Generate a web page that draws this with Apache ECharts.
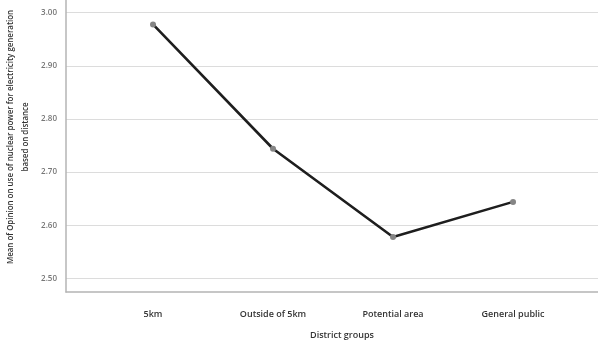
<!DOCTYPE html>
<html><head><meta charset="utf-8">
<script src="https://cdn.jsdelivr.net/npm/echarts@6/dist/echarts.min.js"></script>
<style>html,body{margin:0;padding:0;background:#fff}#c{width:598px;height:343px}</style>
</head><body><div id="c"></div>
<script>
var categories = ["5km", "Outside of 5km", "Potential area", "General public"];
var meanValues = [2.978, 2.744, 2.578, 2.644];
var yTicks = [2.5, 2.6, 2.7, 2.8, 2.9, 3.0];
var yTitle = "Mean of Opinion on use of nuclear power for electricity generation\nbased on distance";
var xTitle = "District groups";

var chart = echarts.init(document.getElementById('c'), null, {renderer: 'canvas'});
var F = '"Open Sans", "Noto Sans", sans-serif';
chart.setOption({
  animation: false,
  grid: {left: 66, right: 0, top: 0, bottom: 51},
  xAxis: {
    type: 'value', min: -0.725, max: 3.708,
    axisLine: {show: true, onZero: false, lineStyle: {color: '#b4b4b4', width: 1.5}},
    axisTick: {show: false},
    splitLine: {show: false},
    axisLabel: {
      customValues: [0, 1, 2, 3],
      formatter: function (v) { return categories[Math.round(v)] || ''; },
      fontFamily: F, fontSize: 9, fontWeight: 600, color: '#333', margin: 18
    }
  },
  yAxis: {
    type: 'value', min: 2.4744, max: 3.0239,
    axisLine: {show: true, onZero: false, lineStyle: {color: '#b4b4b4', width: 1.5}},
    axisTick: {show: false, customValues: yTicks},
    splitLine: {show: true, lineStyle: {color: '#dcdcdc', width: 1.2}},
    axisLabel: {
      customValues: yTicks,
      formatter: function (v) { return v.toFixed(2); },
      fontFamily: F, fontSize: 8, fontWeight: 600, color: '#777', margin: 9
    }
  },
  graphic: [
    {type: 'text', x: 18, y: 137, rotation: Math.PI / 2, scaleX: 0.93,
     style: {text: yTitle, fontFamily: F, fontSize: 8.5, fontWeight: 600, fill: '#333', align: 'center', verticalAlign: 'middle', lineHeight: 15}},
    {type: 'text', x: 342, y: 335,
     style: {text: xTitle, fontFamily: F, fontSize: 9, fontWeight: 600, fill: '#333', align: 'center', verticalAlign: 'middle'}}
  ],
  series: [{
    type: 'line',
    data: meanValues.map(function (v, i) { return [i, v]; }),
    symbol: 'circle', symbolSize: 6,
    itemStyle: {color: '#858585'},
    lineStyle: {color: '#1e1e1e', width: 2.6},
    z: 3
  }]
});
</script></body></html>
